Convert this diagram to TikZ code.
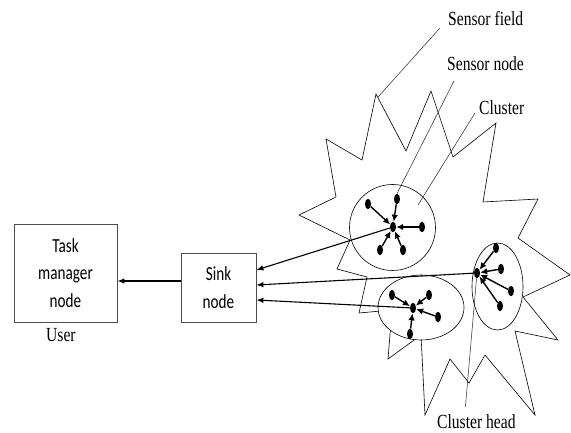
\documentclass[tikz,border=0pt]{standalone}
\usepackage{fontspec}
\setmainfont[FakeStretch=0.78]{Liberation Serif}
\newfontfamily\boxfont[FakeStretch=0.76]{Carlito}
\usetikzlibrary{positioning,shapes.geometric,arrows.meta}

\begin{document}
\begin{tikzpicture}[x=1pt,y=-1pt,
    box/.style={draw=black!70, line width=0.8pt, align=center, inner sep=0pt,
        font=\boxfont\fontsize{20}{27.5}\selectfont},
    tag/.style={font=\fontsize{20}{24}\selectfont, inner sep=0pt, anchor=base west},
    sensor/.style={ellipse, fill, inner sep=0pt, minimum width=6pt, minimum height=10.5pt},
    hop/.style={-{Latex[length=7pt,width=6.5pt]}, line width=1.4pt},
    uplink/.style={-{Latex[length=7pt,width=5.5pt]}, line width=1.1pt},
    leader/.style={line width=0.5pt, black!85},
    zone/.style={draw, line width=0.6pt, fill=white}]
    \useasboundingbox (0,0) rectangle (571,433);

    % sensor field outline
    \draw[line width=0.6pt] (336,197) -- (326,139) -- (362,160) -- (376,94) -- (406,151)
        -- (431,91) -- (453,157) -- (496,123) -- (483,202) -- (538,199) -- (518,238)
        -- (570,275) -- (523,297) -- (558,340) -- (515,331) -- (535,415) -- (485,355)
        -- (469,383) -- (450,359) -- (425,415) -- (421,335) -- (388,359) -- (392,310)
        -- (359,313) -- (367,277) -- (337,269) -- (350,240) -- (299,215) -- cycle;

    % clusters
    \draw[zone] (392.5,227.5) circle (43pt);
    \draw[zone] (421,307.5) ellipse (43pt and 32.5pt);
    \draw[zone] (497.5,286.5) ellipse (25.5pt and 43.5pt);

    % upper cluster
    \node[sensor] (tH) at (393,227) {};
    \node[sensor] (t1) at (368,204) {};
    \node[sensor] (t2) at (397,199) {};
    \node[sensor] (t3) at (422,227) {};
    \node[sensor] (t4) at (380,250) {};
    \node[sensor] (t5) at (403,250) {};
    \foreach \n in {1,...,5}
        \draw[hop] (t\n) -- (tH);

    % lower cluster
    \node[sensor] (lH) at (413,308) {};
    \node[sensor] (l1) at (392,295) {};
    \node[sensor] (l2) at (429,295) {};
    \node[sensor] (l3) at (438,317) {};
    \node[sensor] (l4) at (410,334) {};
    \foreach \n in {1,...,4}
        \draw[hop] (l\n) -- (lH);

    % right cluster
    \node[sensor] (rH) at (477,273) {};
    \node[sensor] (r1) at (496,248) {};
    \node[sensor] (r2) at (501,269) {};
    \node[sensor] (r3) at (511,291) {};
    \node[sensor] (r4) at (500,306) {};
    \foreach \n in {1,...,4}
        \draw[hop] (r\n) -- (rH);

    % boxes
    \node[box, minimum width=103pt, minimum height=98pt] (task) at (65.5,273) {Task\\manager\\node};
    \node[box, minimum width=75pt, minimum height=69pt] (sink) at (218.5,287.5) {Sink\\node};
    \node[tag] (user) at (46,341) {User};

    \draw[uplink] ([yshift=6.5pt]sink.west) coordinate (s0) -- (s0 -| task.east);
    \draw[uplink] (tH) -- ([yshift=17.5pt]sink.east);
    \draw[uplink] (rH) -- ([yshift=2.5pt]sink.east);
    \draw[uplink] (lH) -- ([yshift=-12.5pt]sink.east);

    % labels
    \node[tag] (fieldtxt) at (448,26) {Sensor field};
    \node[tag] (nodetxt) at (447,71) {Sensor node};
    \node[tag] (clustertxt) at (479,115) {Cluster};
    \node[tag] (headtxt) at (437,428) {Cluster head};
    \coordinate (fieldtip) at (378,97);
    \coordinate (clustertip) at (418,205);

    \draw[leader] ([shift={(-8pt,-2pt)}]fieldtxt.base west) -- (fieldtip);
    \draw[leader] ([shift={(7pt,-10pt)}]nodetxt.base west) -- (t2.north);
    \draw[leader] ([shift={(-4pt,2pt)}]clustertxt.base west) -- (clustertip);
    \draw[leader] ([xshift=-11pt,yshift=7pt]headtxt.north) -- (rH);
\end{tikzpicture}
\end{document}
